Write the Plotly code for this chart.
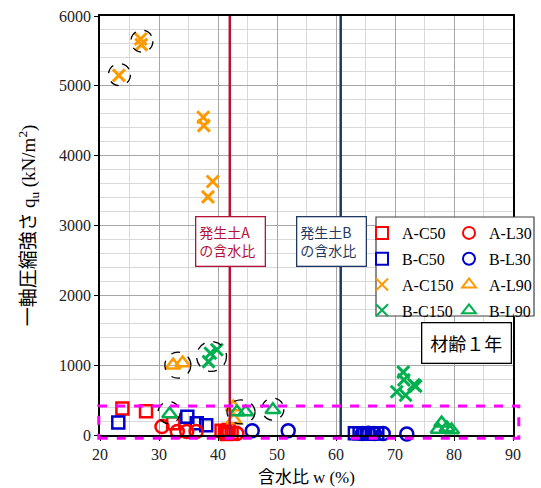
import plotly.graph_objects as go

# ---- data (water content w %, unconfined compressive strength qu kN/m2) ----
A_C50_w = [23.8, 27.8, 32.4, 40.6, 41.2, 41.8, 42.3, 41.5]
A_C50_q = [380, 340, 170, 60, 40, 70, 30, 15]
B_C50_w = [23.1, 34.8, 36.4, 38.0, 63.2, 64.0, 64.8, 65.5, 66.2, 67.0]
B_C50_q = [180, 260, 170, 140, 25, 25, 25, 20, 25, 20]
A_C150_w = [23.2, 26.9, 27.0, 37.5, 37.6, 39.1, 38.3]
A_C150_q = [5150, 5670, 5590, 4550, 4430, 3630, 3410]
B_C150_w = [38.4, 38.7, 39.8, 71.4, 71.5, 73.2, 73.5, 70.3, 71.8]
B_C150_q = [1050, 1170, 1220, 900, 790, 720, 700, 620, 570]
A_L30_w = [30.5, 33.1, 34.7, 36.3, 43.2]
A_L30_q = [120, 50, 50, 50, 20]
B_L30_w = [45.8, 51.9, 64.5, 65.5, 66.5, 68.0, 72.0]
B_L30_q = [60, 60, 20, 25, 20, 20, 15]
A_L90_w = [32.4, 34.0, 42.6, 42.7]
A_L90_q = [1000, 1030, 400, 215]
B_L90_w = [31.8, 43.2, 44.7, 49.3, 77.9, 77.3, 78.8, 79.6]
B_L90_q = [300, 330, 330, 360, 170, 80, 100, 70]

SOIL_A_W = 42.0   # water content of excavated soil A
SOIL_B_W = 60.8   # water content of excavated soil B

X_TICKS = [20, 30, 40, 50, 60, 70, 80, 90]
Y_TICKS = [0, 1000, 2000, 3000, 4000, 5000, 6000]

# ---- layout constants ----
W, H = 541, 488
ML, MR, MT, MB = 100, 28, 16, 53
XR = [20, 90]
YR = [0, 6000]
PW = W - ML - MR
PH = H - MT - MB
PX_X = PW / (XR[1] - XR[0])
PX_Y = PH / (YR[1] - YR[0])

SERIF = "Liberation Serif"
GOTHIC = "Noto Sans CJK JP"

RED = "#FF0000"
BLUE = "#0000CC"
ORANGE = "#FF9900"
GREEN = "#00B050"

fig = go.Figure()

def add(name, xs, ys, color, symbol, legend, size=12, lw=2.5):
    fig.add_trace(go.Scatter(
        x=xs, y=ys, mode="markers", name=name, legend=legend, legendgroup=name,
        marker=dict(symbol=symbol, size=size, color=color,
                    line=dict(color=color, width=lw)),
        cliponaxis=False,
    ))

# draw order
add("A-C50", A_C50_w, A_C50_q, RED, "square-open", "legend", 12, 2.5)
add("B-C50", B_C50_w, B_C50_q, BLUE, "square-open", "legend", 12, 2.5)
add("A-C150", A_C150_w, A_C150_q, ORANGE, "x-thin-open", "legend", 12, 3)
add("B-C150", B_C150_w, B_C150_q, GREEN, "x-thin-open", "legend", 12, 3)
add("A-L30", A_L30_w, A_L30_q, RED, "circle-open", "legend2", 13, 2.5)
add("B-L30", B_L30_w, B_L30_q, BLUE, "circle-open", "legend2", 13, 2.5)
add("A-L90", A_L90_w, A_L90_q, ORANGE, "triangle-up-open", "legend2", 13, 2.5)
add("B-L90", B_L90_w, B_L90_q, GREEN, "triangle-up-open", "legend2", 13, 2.5)

shapes = []
# vertical reference lines
shapes.append(dict(type="line", xref="x", yref="y", x0=SOIL_A_W, x1=SOIL_A_W,
                   y0=YR[0], y1=YR[1], line=dict(color="#B5123A", width=2.5)))
shapes.append(dict(type="line", xref="x", yref="y", x0=SOIL_B_W, x1=SOIL_B_W,
                   y0=YR[0], y1=YR[1], line=dict(color="#1F3864", width=2.5)))

# dashed circles highlighting points (center w, center q, radius px x, radius px y)
CIRCLES = [
    (23.3, 5160, 11, 11),
    (27.1, 5640, 11, 11),
    (33.2, 1000, 13, 13),
    (38.9, 1125, 15, 15),
    (31.7, 320, 11, 11),
    (43.9, 330, 14, 12),
    (49.3, 370, 11, 11),
]
for cx, cy, rx, ry in CIRCLES:
    shapes.append(dict(type="circle", xref="x", yref="y",
                       x0=cx - rx / PX_X, x1=cx + rx / PX_X,
                       y0=cy - ry / PX_Y, y1=cy + ry / PX_Y,
                       line=dict(color="black", width=1.3, dash="dash"),
                       layer="above"))

# magenta dashed frame around low-strength region (paper coords)
shapes.append(dict(type="rect", xref="paper", yref="paper",
                   x0=-0.003, x1=1.014, y0=-0.008, y1=0.069,
                   line=dict(color="#FF00FF", width=3, dash="dash")))

# legend frame
shapes.append(dict(type="rect", xref="paper", yref="paper",
                   x0=(376 - ML) / PW, x1=(534 - ML) / PW,
                   y0=(H - MB - 316) / PH, y1=(H - MB - 217) / PH,
                   line=dict(color="#404040", width=1.2),
                   fillcolor="white", layer="above"))

annotations = [
    dict(x=42.2, y=2765, xref="x", yref="y", text="発生土A<br>の含水比",
         showarrow=False, font=dict(family=GOTHIC, size=14, color="#B5123A"),
         bgcolor="white", bordercolor="#B5123A", borderwidth=1.3, borderpad=3,
         width=62, height=42, align="left", valign="middle"),
    dict(x=59.3, y=2765, xref="x", yref="y", text="発生土B<br>の含水比",
         showarrow=False, font=dict(family=GOTHIC, size=14, color="#1F3864"),
         bgcolor="white", bordercolor="#1F3864", borderwidth=1.3, borderpad=3,
         width=62, height=42, align="left", valign="middle"),
    dict(x=82.1, y=1318, xref="x", yref="y", text="材齢１年",
         showarrow=False, font=dict(family=GOTHIC, size=18, color="black"),
         bgcolor="white", bordercolor="black", borderwidth=1.3, borderpad=3,
         width=82, height=33, align="center", valign="middle"),
]

axis_common = dict(showline=True, linecolor="black", linewidth=1.5, mirror=True,
                   ticks="outside", ticklen=4, tickcolor="black",
                   tickfont=dict(family=SERIF, size=16, color="#222"),
                   showgrid=True, gridcolor="#A6A6A6", gridwidth=1,
                   zeroline=False)

fig.update_layout(
    width=W, height=H,
    margin=dict(l=ML, r=MR, t=MT, b=MB, autoexpand=False),
    paper_bgcolor="white", plot_bgcolor="white",
    shapes=shapes, annotations=annotations,
    xaxis=dict(range=XR, tickvals=X_TICKS,
               minor=dict(dtick=5, showgrid=True, gridcolor="#D9D9D9", ticks=""),
               title=dict(text="含水比 <span style='font-family:Liberation Serif'>w (%)</span>",
                          font=dict(family=GOTHIC, size=17, color="black"), standoff=4),
               **axis_common),
    yaxis=dict(range=YR, tickvals=Y_TICKS,
               minor=dict(dtick=200, showgrid=True, gridcolor="#D9D9D9", ticks=""),
               title=dict(text="一軸圧縮強さ <span style='font-family:Liberation Serif'>q<sub>u</sub> (kN/m<sup>2</sup>)</span>",
                          font=dict(family=GOTHIC, size=19, color="black"), standoff=18),
               **axis_common),
    legend=dict(x=(362 - ML) / PW, xanchor="left", y=(H - MB - 216) / PH, yanchor="top",
                bgcolor="rgba(0,0,0,0)", borderwidth=0,
                font=dict(family=SERIF, size=16, color="black"),
                tracegroupgap=2, itemsizing="constant"),
    legend2=dict(x=(449 - ML) / PW, xanchor="left", y=(H - MB - 216) / PH, yanchor="top",
                 bgcolor="rgba(0,0,0,0)", borderwidth=0,
                 font=dict(family=SERIF, size=16, color="black"),
                 tracegroupgap=2, itemsizing="constant"),
    showlegend=True,
)

fig.write_html("out.html", config={"displayModeBar": False},
               post_script="document.body.style.margin='0px';")
